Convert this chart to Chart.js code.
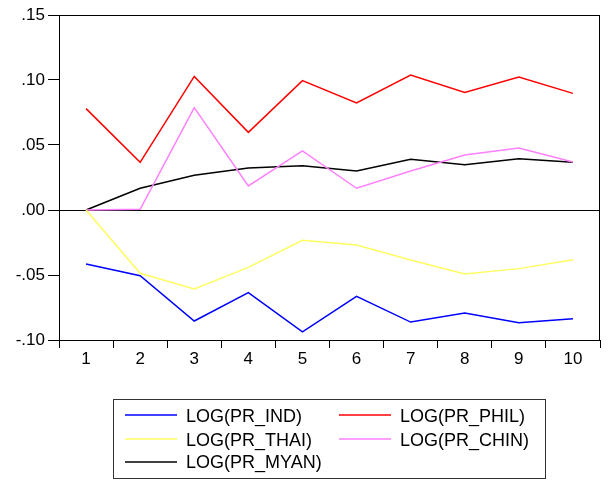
<!DOCTYPE html>
<html>
<head>
<meta charset="utf-8">
<script src="https://cdn.jsdelivr.net/npm/chart.js@4/dist/chart.umd.min.js"></script>
<style>
  body { margin: 0; background: #fff; }
  #wrap { width: 609px; height: 480px; }
</style>
</head>
<body>
<div id="wrap"><canvas id="line-chart" width="609" height="480"></canvas></div>
<script>
var periods = ['1', '2', '3', '4', '5', '6', '7', '8', '9', '10'];

var pr_ind  = [-0.0415, -0.0505, -0.0854, -0.0636, -0.0938, -0.0664, -0.0862, -0.0792, -0.0867, -0.0836];
var pr_phil = [0.0780, 0.0367, 0.1028, 0.0597, 0.0995, 0.0823, 0.1038, 0.0905, 0.1023, 0.0897];
var pr_thai = [0.0000, -0.0487, -0.0608, -0.0441, -0.0233, -0.0269, -0.0385, -0.0492, -0.0451, -0.0382];
var pr_chin = [0.0000, 0.0005, 0.0787, 0.0185, 0.0454, 0.0167, 0.0300, 0.0423, 0.0477, 0.0369];
var pr_myan = [0.0000, 0.0167, 0.0267, 0.0323, 0.0341, 0.0300, 0.0390, 0.0349, 0.0395, 0.0367];

var FONT = "'Liberation Sans', Arial, sans-serif";

function mkSet(label, data, color) {
  return {
    label: label,
    data: data,
    borderColor: color,
    backgroundColor: color,
    borderWidth: 1.5,
    pointRadius: 0,
    tension: 0,
    fill: false
  };
}

// frame round the plot plus the legend box in 2 columns
var extras = {
  id: 'extras',
  afterDraw: function(chart) {
    var ctx = chart.ctx;
    var a = chart.chartArea;
    ctx.save();
    ctx.strokeStyle = '#000';
    ctx.lineWidth = 1;
    ctx.strokeRect(Math.round(a.left) + 0.5, Math.round(a.top) + 0.5,
                   Math.round(a.right - a.left) - 1, Math.round(a.bottom - a.top));

    var bx = 113.5, by = 399.5, bw = 432, bh = 79;
    ctx.strokeStyle = '#333';
    ctx.strokeRect(bx, by, bw, bh);

    ctx.font = '18px ' + FONT;
    ctx.textBaseline = 'alphabetic';
    ctx.fillStyle = '#000';
    var cols = [125, 339];
    var lineY = [415, 439, 462];
    var textY = [422, 446, 468];
    chart.data.datasets.forEach(function(ds, i) {
      var x = cols[i % 2], r = Math.floor(i / 2);
      ctx.strokeStyle = ds.borderColor;
      ctx.lineWidth = 1.5;
      ctx.beginPath();
      ctx.moveTo(x, lineY[r]);
      ctx.lineTo(x + 52, lineY[r]);
      ctx.stroke();
      ctx.fillText(ds.label, x + 61, textY[r]);
    });
    ctx.restore();
  }
};

var mychart = new Chart(document.getElementById('line-chart'), {
  type: 'line',
  data: {
    labels: periods,
    datasets: [
      mkSet('LOG(PR_IND)', pr_ind, '#0000ff'),
      mkSet('LOG(PR_PHIL)', pr_phil, '#ff0000'),
      mkSet('LOG(PR_THAI)', pr_thai, '#ffff60'),
      mkSet('LOG(PR_CHIN)', pr_chin, '#ff80ff'),
      mkSet('LOG(PR_MYAN)', pr_myan, '#000000')
    ]
  },
  options: {
    responsive: false,
    animation: false,
    layout: { padding: { top: 15, right: 9, left: 0, bottom: 0 } },
    plugins: {
      legend: { display: false },
      tooltip: { enabled: false }
    },
    scales: {
      x: {
        offset: true,
        grid: {
          offset: true,
          color: 'rgba(0,0,0,0)',
          tickColor: '#000',
          tickLength: 8,
          drawTicks: true
        },
        border: { display: true, color: '#000' },
        ticks: { color: '#000', font: { family: FONT, size: 17 }, padding: 1, maxRotation: 0 },
        afterFit: function(scale) { scale.height = 140; }
      },
      y: {
        min: -0.10,
        max: 0.15,
        grid: {
          color: function(c) { return c.tick && c.tick.value === 0 ? '#000' : 'rgba(0,0,0,0)'; },
          tickColor: '#000',
          tickLength: 11,
          lineWidth: 1
        },
        border: { display: true, color: '#000' },
        ticks: {
          stepSize: 0.05,
          color: '#000',
          padding: 3,
          font: { family: FONT, size: 17 },
          callback: function(v) {
            var s = Math.abs(v) < 1e-9 ? '0.00' : v.toFixed(2);
            return s.replace(/^(-?)0\./, '$1.');
          }
        },
        afterFit: function(scale) { scale.width = 59; }
      }
    }
  },
  plugins: [extras]
});
mychart.update();
</script>
</body>
</html>
